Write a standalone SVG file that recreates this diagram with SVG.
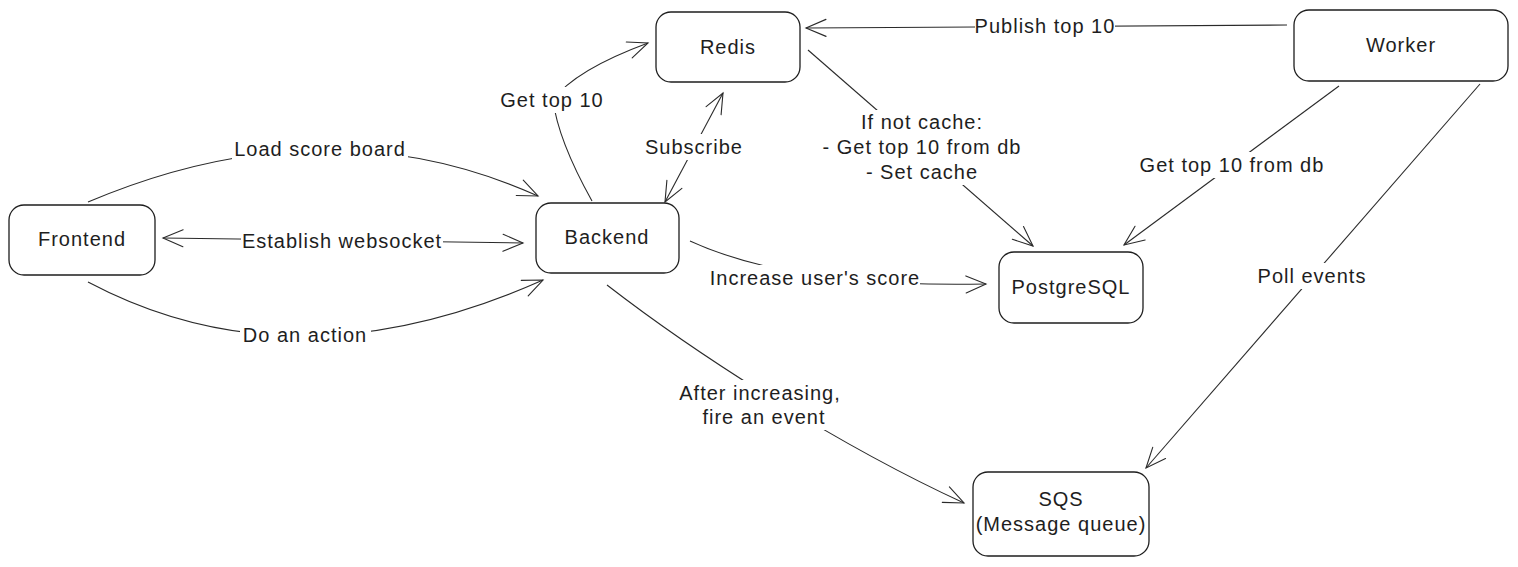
<svg xmlns="http://www.w3.org/2000/svg" width="1518" height="567" viewBox="0 0 1518 567">
<style>
.box{fill:#ffffff;stroke:#1e1e1e;stroke-width:1.3}
.t{font-family:"Liberation Sans",Arial,sans-serif;font-size:20px;letter-spacing:1px;fill:#1e1e1e;text-anchor:middle}
.c{fill:none;stroke:#2a2a2a;stroke-width:1.1;marker-end:url(#ah)}
.cd{fill:none;stroke:#2a2a2a;stroke-width:1.1;marker-end:url(#ah);marker-start:url(#ah)}
.bg{fill:#ffffff}
</style>
<defs>
<marker id="ah" viewBox="-2 -2 26 22" refX="20" refY="8.5" markerWidth="26" markerHeight="22" markerUnits="userSpaceOnUse" orient="auto-start-reverse">
<path d="M0,0 L20,8.5 L0,17" fill="none" stroke="#2a2a2a" stroke-width="1.1" stroke-linecap="round"/>
</marker>
</defs>
<rect width="1518" height="567" fill="#ffffff"/>
<g id="connectors">
<path class="c" d="M88,202 Q327,101 538,196"/>
<path class="cd" d="M163,238 L523,243"/>
<path class="c" d="M88,282 Q294,391 543,280"/>
<path class="c" d="M592,201 Q558,140 553,100 Q575,70 648,43"/>
<path class="cd" d="M665,202 L723,93"/>
<path class="c" d="M808,50 L1033,246"/>
<path class="c" d="M1287,25 L806,28"/>
<path class="c" d="M1339,86 L1124,245"/>
<path class="c" d="M1480,84 L1146,468"/>
<path class="c" d="M690,241 Q792,288 986,284"/>
<path class="c" d="M607,285 C700,357 840,446 964,503"/>
<g id="labels">
<rect class="bg" x="232" y="137" width="176" height="26"/>
<text class="t" x="320" y="156">Load score board</text>
<rect class="bg" x="241" y="228" width="202" height="26"/>
<text class="t" x="342" y="248">Establish websocket</text>
<rect class="bg" x="240" y="322" width="131" height="26"/>
<text class="t" x="305" y="342">Do an action</text>
<rect class="bg" x="496" y="87" width="112" height="26"/>
<text class="t" x="552" y="107">Get top 10</text>
<rect class="bg" x="646" y="134" width="96" height="26"/>
<text class="t" x="694" y="154">Subscribe</text>
<rect class="bg" x="975" y="13" width="140" height="26"/>
<text class="t" x="1045" y="33">Publish top 10</text>
<rect class="bg" x="815" y="110" width="214" height="75"/>
<text class="t" x="922" y="129">If not cache:</text>
<text class="t" x="922" y="154">- Get top 10 from db</text>
<text class="t" x="922" y="179">- Set cache</text>
<rect class="bg" x="1134" y="152" width="196" height="26"/>
<text class="t" x="1232" y="172">Get top 10 from db</text>
<rect class="bg" x="1256" y="263" width="112" height="26"/>
<text class="t" x="1312" y="283">Poll events</text>
<rect class="bg" x="710" y="265" width="210" height="26"/>
<text class="t" x="815" y="285">Increase user's score</text>
<rect class="bg" x="687" y="380" width="146" height="50"/>
<text class="t" x="760" y="400">After increasing,</text>
<text class="t" x="764" y="424">fire an event</text>
</g>
</g>
<g id="frontend">
<rect class="box" x="9" y="205" width="146" height="70" rx="15"/>
<text class="t" x="82" y="246">Frontend</text>
</g>
<g id="backend">
<rect class="box" x="536" y="203" width="143" height="70" rx="15"/>
<text class="t" x="607" y="244">Backend</text>
</g>
<g id="redis">
<rect class="box" x="656" y="12" width="144" height="70" rx="15"/>
<text class="t" x="728" y="54">Redis</text>
</g>
<g id="worker">
<rect class="box" x="1294" y="10" width="214" height="71" rx="15"/>
<text class="t" x="1401" y="52">Worker</text>
</g>
<g id="postgresql">
<rect class="box" x="999" y="252" width="144" height="71" rx="15"/>
<text class="t" x="1071" y="294">PostgreSQL</text>
</g>
<g id="sqs">
<rect class="box" x="973" y="472" width="176" height="84" rx="15"/>
<text class="t" x="1061" y="506">SQS</text>
<text class="t" x="1061" y="531">(Message queue)</text>
</g>
</svg>
